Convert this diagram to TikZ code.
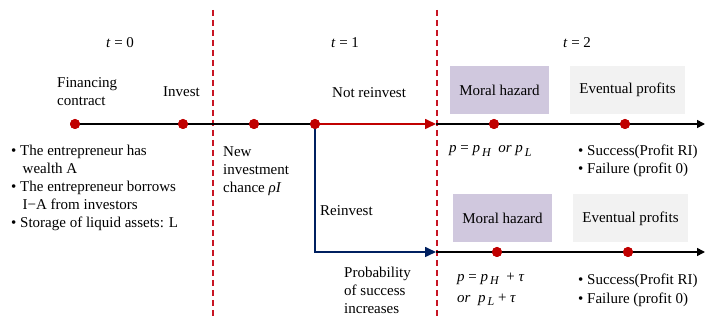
\documentclass[tikz,border=0pt]{standalone}
\usepackage{fontspec}
\setmainfont{Liberation Serif}
\usetikzlibrary{arrows.meta}
\definecolor{dotred}{RGB}{192,0,0}
\definecolor{dashred}{RGB}{200,20,35}
\definecolor{navy}{RGB}{0,32,96}
\definecolor{lav}{RGB}{208,200,222}
\definecolor{lgray}{RGB}{242,242,242}
\newcommand\mi[1]{\textit{#1}}
\newcommand\msub[1]{\raisebox{-0.45ex}{\fontsize{12}{12}\selectfont\itshape #1}}
\begin{document}
\begin{tikzpicture}[x=1pt,y=-1pt,
  font=\fontsize{15}{18}\selectfont,
  every node/.style={inner sep=0pt},
  mainline/.style={line width=1.6pt,black},
  endarrow/.style={-{Triangle[length=8pt,width=8pt]}},
  redline/.style={line width=1.6pt,dotred,-{Triangle[length=11pt,width=10pt]}},
  blueline/.style={line width=1.6pt,navy,-{Triangle[length=11pt,width=10pt]}},
  dot/.style={circle,fill=dotred,minimum size=10pt},
  divider/.style={draw=dashred,line width=1.3pt,dash pattern=on 6pt off 4pt},
  txt/.style={anchor=west},
  txtblock/.style={anchor=north west,align=left},
  mhbox/.style={fill=lav,minimum width=99pt,minimum height=48pt},
  epbox/.style={fill=lgray,minimum width=115pt,minimum height=48pt}]
\useasboundingbox (0,0) rectangle (705,320);

% dividers
\coordinate (v1t) at (213,10); \coordinate (v1b) at (213,320);
\coordinate (v2t) at (437,10); \coordinate (v2b) at (437,320);
\draw[divider] (v1t) -- (v1b);
\draw[divider] (v2t) -- (v2b);

% period labels
\node (t0) at (120,43) {\mi{t}\ =\ 0};
\node (t1) at (345,43) {\mi{t}\ =\ 1};
\node (t2) at (577,43) {\mi{t}\ =\ 2};

% boxes
\node[mhbox] (mh1) at (499.5,90) {Moral hazard};
\node[epbox] (ep1) at (627.5,90) {Eventual profits};
\node[mhbox] (mh2) at (502.5,218.5) {Moral hazard};
\node[epbox] (ep2) at (630.5,218.5) {Eventual profits};

% dots
\node[dot] (d1) at (75,124) {};
\node[dot] (d2) at (183,124) {};
\node[dot] (d3) at (254,124) {};
\node[dot] (d4) at (315,124) {};
\node[dot] (d5) at (494,124) {};
\node[dot] (d6) at (625,124) {};
\node[dot] (d7) at (497,252) {};
\node[dot] (d8) at (628,252) {};
\coordinate (a1) at (436,124);
\coordinate (e1) at (705,124);
\coordinate (a2) at (436,252);
\coordinate (e2) at (705,252);

% lines
\draw[mainline] (d1.center) -- (d4.center);
\draw[redline] (d4.center) -- (a1);
\draw[mainline,endarrow] (a1) -- (e1);
\draw[blueline] (d4.center) |- (a2);
\draw[mainline,endarrow] (a2) -- (e2);
% dots on top of the lines
\foreach \n in {d1,d2,d3,d4,d5,d6,d7,d8} \fill[dotred] (\n) circle (5pt);

% texts
\node[txtblock] (fin) at (57,77) {Financing\\contract};
\node[txt] (inv) at (163,92) {Invest};
\node[txt] (nri) at (332,93) {Not reinvest};
\node[txt] (rei) at (320,211) {Reinvest};
\node[txtblock] (bul) at (11,145) {\textbullet\ The entrepreneur has\\
\phantom{\textbullet\ }\,wealth A\\
\textbullet\ The entrepreneur borrows\\
\phantom{\textbullet\ }\,I\textminus A from investors\\
\textbullet\ Storage of liquid assets: L};
\node[txtblock] (newi) at (223,146) {New\\investment\\chance \mi{ρI}};
\node[txtblock] (prob) at (344,267) {Probability\\of success\\increases};
\node[txt] (pu) at (449,151) {\mi{p} = \mi{p}\msub{\,H} \ \mi{or}\ \mi{p}\msub{\,L}};
\node[txtblock] (su) at (578,145) {\textbullet\ Success(Profit RI)\\\textbullet\ Failure (profit 0)};
\node[txtblock,font=\fontsize{15}{21}\selectfont] (pl) at (457,273) {\mi{p} = \mi{p}\msub{\,H} \ + \mi{τ}\\\mi{or}\ \ \mi{p}\msub{\,L} + \mi{τ}};
\node[txtblock,font=\fontsize{15}{19}\selectfont] (sl) at (578,274) {\textbullet\ Success(Profit RI)\\\textbullet\ Failure (profit 0)};
\end{tikzpicture}
\end{document}
